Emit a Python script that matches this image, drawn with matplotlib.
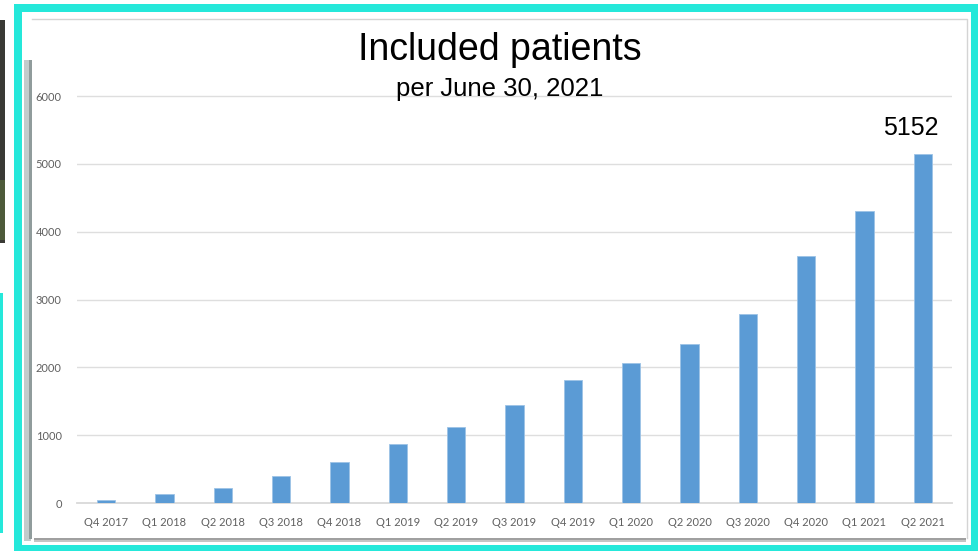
import matplotlib
matplotlib.use("Agg")
import matplotlib.pyplot as plt
from matplotlib.patches import Rectangle

categories = ["Q4 2017", "Q1 2018", "Q2 2018", "Q3 2018", "Q4 2018",
              "Q1 2019", "Q2 2019", "Q3 2019", "Q4 2019",
              "Q1 2020", "Q2 2020", "Q3 2020", "Q4 2020",
              "Q1 2021", "Q2 2021"]
patients = [45, 130, 214, 403, 612, 876, 1121, 1445, 1810,
            2065, 2340, 2783, 3648, 4301, 5152]
yticks = [0, 1000, 2000, 3000, 4000, 5000, 6000]
title = "Included patients"
subtitle = "per June 30, 2021"
annot_label = "5152"

W, H = 979, 551
fig = plt.figure(figsize=(W / 100, H / 100), dpi=100)
fig.patch.set_facecolor("white")


def rect(x0, y0, x1, y1, color, z=0, alpha=1.0):
    fig.patches.append(Rectangle((x0 / W, 1 - y1 / H), (x1 - x0) / W, (y1 - y0) / H,
                                 transform=fig.transFigure, facecolor=color,
                                 edgecolor="none", zorder=z, alpha=alpha))


cyan = "#25E8DA"
# left-edge fragments
rect(0, 20, 5, 243, "#3a3a35")
rect(0, 180, 5, 240, "#4d5a3a")
rect(0, 293, 3, 533, cyan)
# cyan frame
rect(14, 4, 979, 12, cyan)
rect(14, 4, 22, 551, cyan)
rect(971, 4, 979, 551, cyan)
rect(14, 545, 979, 551, cyan)
# panel shadow
rect(24, 60, 31, 541, "#c2cccc")
rect(29, 60, 32, 539, "#909c9c")
rect(34, 538, 966, 542, "#c4c4c4")
rect(34, 538, 966, 540, "#a0a0a0")
# panel
rect(32, 18, 968, 538, "white")
fig.lines.append(plt.Line2D([32 / W, 967.5 / W, 967.5 / W], [1 - 18.5 / H, 1 - 18.5 / H, 1 - 538 / H],
                            transform=fig.transFigure, color="#d4d4d4", lw=1))

ax_left, ax_right = 77, 952
y0_px, ymax = 503, 6300
px_per = 67.8 / 1000
top_px = y0_px - ymax * px_per
ax = fig.add_axes([ax_left / W, 1 - y0_px / H, (ax_right - ax_left) / W, (y0_px - top_px) / H])
ax.set_zorder(10)
ax.set_facecolor("none")
x = list(range(len(categories)))
ax.bar(x, patients, width=0.31, color="#5B9BD5", edgecolor="#9dc3e6", linewidth=0.6, zorder=3)
ax.set_xlim(-0.5, len(categories) - 0.5)
ax.set_ylim(0, ymax)
ax.set_yticks(yticks)
ax.set_yticklabels([str(t) for t in yticks])
ax.set_xticks(x)
ax.set_xticklabels(categories)
for s in ["top", "right", "left"]:
    ax.spines[s].set_visible(False)
ax.spines["bottom"].set_color("#d9d9d9")
ax.spines["bottom"].set_linewidth(1.3)
ax.grid(axis="y", color="#dedede", linewidth=1.0, zorder=0)
ax.tick_params(axis="both", length=0, labelcolor="#606060", labelsize=8)
ax.tick_params(axis="y", pad=11)
ax.tick_params(axis="x", pad=10)
for lab in ax.get_xticklabels() + ax.get_yticklabels():
    lab.set_fontfamily("Lato")

ax.annotate(annot_label, xy=(x[-1], patients[-1]), xytext=(-8.5, 13.5), textcoords="offset points",
            ha="center", va="baseline", fontsize=18, family="Liberation Sans", color="black")

fig.text(500 / W, 1 - 60 / H, title, ha="center", va="baseline", fontsize=27,
         family="Liberation Sans", color="black", zorder=12)
fig.text(500 / W, 1 - 96 / H, subtitle, ha="center", va="baseline", fontsize=18.5,
         family="Liberation Sans", color="black", zorder=12)

fig.savefig("out.png", dpi=100, facecolor="white")
